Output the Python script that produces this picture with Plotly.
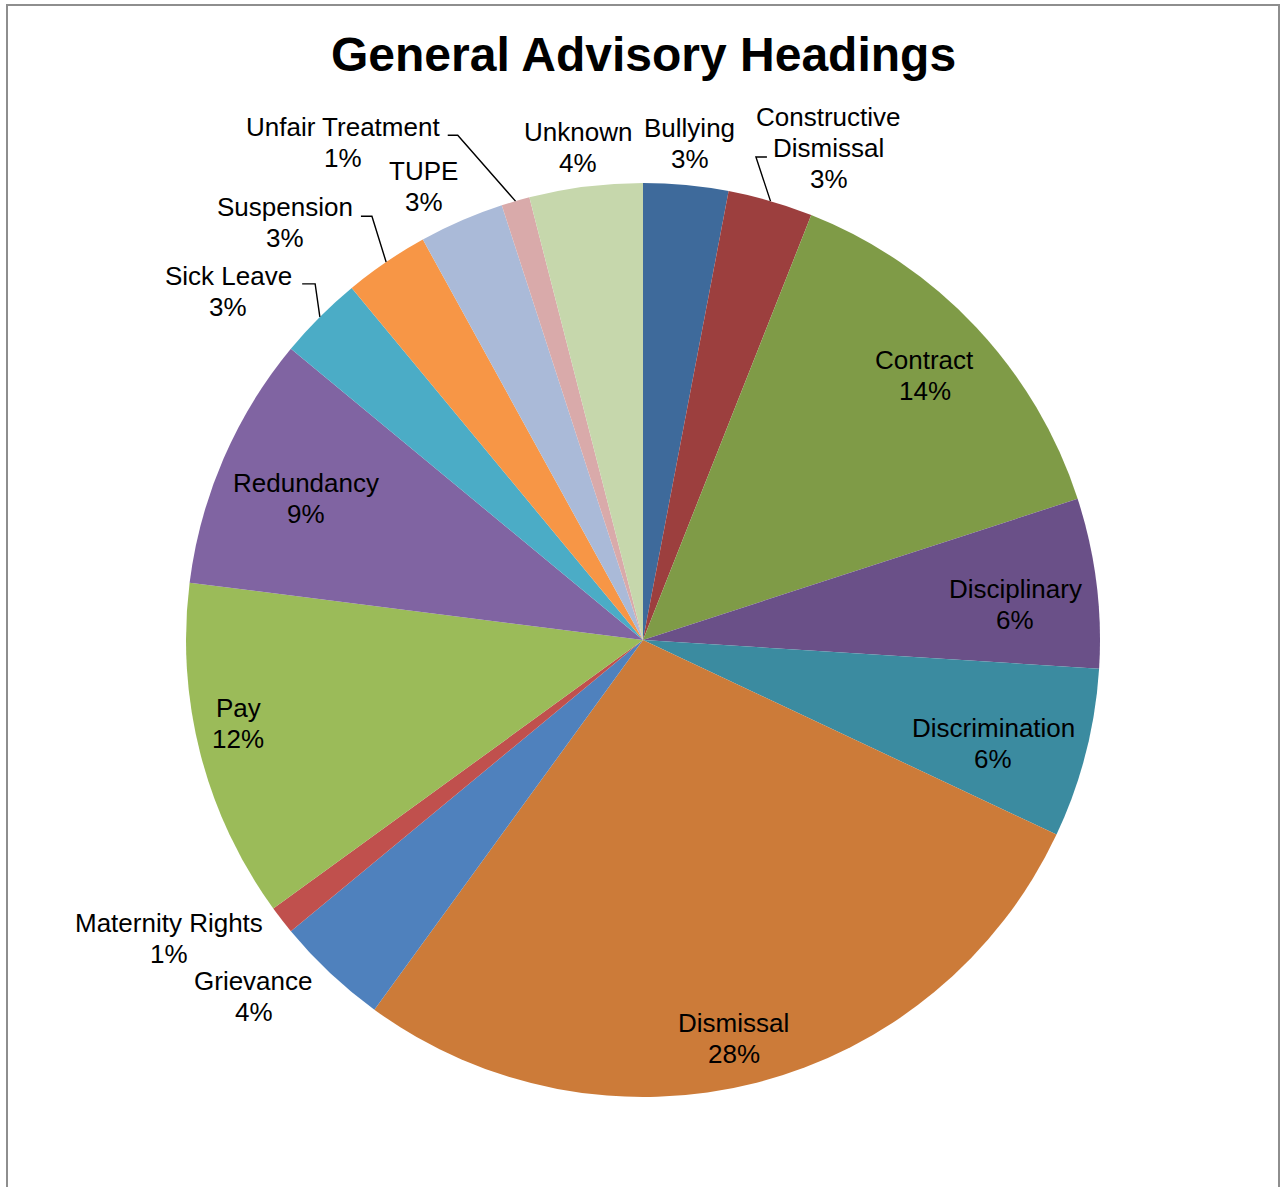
import math
import plotly.graph_objects as go

# Share of enquiries by advisory heading (percent)
categories = [
    "Bullying", "Constructive Dismissal", "Contract", "Disciplinary",
    "Discrimination", "Dismissal", "Grievance", "Maternity Rights", "Pay",
    "Redundancy", "Sick Leave", "Suspension", "TUPE", "Unfair Treatment",
    "Unknown",
]
shares = [3, 3, 14, 6, 6, 28, 4, 1, 12, 9, 3, 3, 3, 1, 4]

colors = [
    "#3E6A9B", "#9C3F3E", "#7F9B47", "#6A5088", "#3B8BA0", "#CC7B39",
    "#4F81BD", "#C0504D", "#9BBB59", "#8064A2", "#4BACC6", "#F79646",
    "#AABAD8", "#D9AAAA", "#C6D7AC",
]

# Line breaks used in the data labels
display_names = {"Constructive Dismissal": "Constructive\nDismissal"}

# Data-label placement: distance from centre (fraction of radius) and angular nudge (deg)
label_radius = [1.092, 1.151, 0.845, 0.818, 0.799, 0.895, 1.155, 1.226,
                0.904, 0.80, 1.185, 1.204, 1.103, 1.272, 1.086]
label_nudge = [0, 4.5, 0, 1.8, 2.0, 1.6, 4.3, 5.6, 2.8, -0.7, -5.0, -6.4,
               -2.4, -14.9, -0.3]

# Leader lines: (end offset, elbow offset) in px relative to the label centre
leaders = {
    "Constructive Dismissal": ((-62, 9), (-73, 9)),
    "Sick Leave": ((74, -8), (87, -8)),
    "Suspension": ((76, -6), (87, -6)),
    "Unfair Treatment": ((105, -7), (115, -7)),
}

W, H = 1281, 1187
CX, CY, R = 643, 640, 457
LINE_GAP = 31
FONT = "Liberation Sans, Arial, sans-serif"


def px(x):
    return x / W


def py(y):
    return 1 - y / H


fig = go.Figure(
    go.Pie(
        labels=categories,
        values=shares,
        sort=False,
        direction="clockwise",
        rotation=0,
        textinfo="none",
        hoverinfo="label+percent",
        marker=dict(colors=colors, line=dict(width=0)),
        domain=dict(x=[px(CX - R), px(CX + R)], y=[py(CY + R), py(CY - R)]),
        showlegend=False,
    )
)

annotations = []
shapes = []
total = sum(shares)
cum = 0.0
for i, (name, v) in enumerate(zip(categories, shares)):
    mid = (cum + v / 2) / total * 360
    cum += v
    theta = math.radians(mid + label_nudge[i])
    r = label_radius[i] * R
    lx = CX + r * math.sin(theta)
    ly = CY - r * math.cos(theta)
    lines = display_names.get(name, name).split("\n") + [f"{v}%"]
    n = len(lines)
    for k, t in enumerate(lines):
        yk = ly + (k - (n - 1) / 2) * LINE_GAP
        annotations.append(dict(
            x=px(lx), y=py(yk), xref="paper", yref="paper",
            text=t, showarrow=False, xanchor="center", yanchor="middle",
            font=dict(family=FONT, size=26, color="#000000"),
        ))
    if name in leaders:
        (ex, ey), (bx, by) = leaders[name]
        a = math.radians(mid)
        sx = CX + R * math.sin(a)
        sy = CY - R * math.cos(a)
        path = (f"M {px(sx)},{py(sy)} L {px(lx + bx)},{py(ly + by)} "
                f"L {px(lx + ex)},{py(ly + ey)}")
        shapes.append(dict(type="path", xref="paper", yref="paper", path=path,
                           line=dict(color="#000000", width=1.4)))

# Title
annotations.append(dict(
    x=px(CX), y=py(54), xref="paper", yref="paper",
    text="<b>General Advisory Headings</b>", showarrow=False,
    xanchor="center", yanchor="middle",
    font=dict(family=FONT, size=48, color="#000000"),
))

# Chart-area border
shapes.append(dict(type="rect", xref="paper", yref="paper",
                   x0=px(7), x1=px(1279), y0=py(1200), y1=py(5),
                   line=dict(color="#8E8E8E", width=2)))

fig.update_layout(
    width=W, height=H,
    margin=dict(l=0, r=0, t=0, b=0),
    paper_bgcolor="#FFFFFF",
    plot_bgcolor="#FFFFFF",
    annotations=annotations,
    shapes=shapes,
)

fig.write_html("out.html")
